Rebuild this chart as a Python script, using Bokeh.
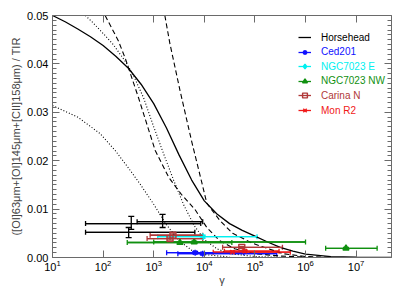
import numpy as np
from bokeh.plotting import figure
from bokeh.models import (Range1d, FixedTicker, SingleIntervalTicker, LogAxis, LinearAxis,
                          PrintfTickFormatter, CustomJSTickFormatter, ColumnDataSource,
                          Whisker, TeeHead, Legend, LegendItem)
from bokeh.embed import file_html
from bokeh.resources import INLINE

# ---------------- model curves (log10 gamma, ratio) ----------------
solid_lg = [1.0, 1.25, 1.5, 1.75, 2.0, 2.25, 2.5, 2.75, 3.0, 3.25, 3.5, 3.75, 4.0, 4.25, 4.5, 4.75, 5.0, 5.25, 5.5, 5.75, 6.0, 6.5, 7.0, 7.7]
solid_y = [0.0500, 0.0487, 0.0472, 0.0456, 0.0438, 0.0416, 0.0391, 0.0358, 0.0318, 0.0268, 0.0212, 0.0160, 0.0117, 0.0090, 0.0070, 0.0056, 0.0044, 0.0032, 0.0021, 0.0013, 0.0007, 0.0002, 0.00005, 0.00001]

dot1_lg = [1.65, 1.8, 2.0, 2.2, 2.44, 2.6, 2.8, 3.0, 3.2, 3.4, 3.6, 3.8, 4.0, 4.25, 4.5, 5.0, 5.5]
dot1_y = [0.0500, 0.0485, 0.0463, 0.0440, 0.0405, 0.0376, 0.0330, 0.0270, 0.0213, 0.0158, 0.0107, 0.0066, 0.0037, 0.0018, 0.0008, 0.0002, 0.00005]

dot2_lg = [1.0, 1.5, 1.94, 2.24, 2.5, 2.73, 3.0, 3.25, 3.5, 3.75, 4.0, 4.5]
dot2_y = [0.0314, 0.0290, 0.0256, 0.0221, 0.0185, 0.0152, 0.0110, 0.0068, 0.0035, 0.0015, 0.0006, 0.0001]

dashA_lg = [2.04, 2.3, 2.44, 2.7, 3.03, 3.3, 3.55, 3.81, 4.05, 4.3, 4.6, 5.0, 5.5, 6.0]
dashA_y = [0.0500, 0.0448, 0.0411, 0.0330, 0.0221, 0.0165, 0.0130, 0.0100, 0.0062, 0.0035, 0.0018, 0.0008, 0.0003, 0.0001]

dashB_lg = [3.22, 3.32, 3.52, 3.75, 3.95, 4.05, 4.31, 4.56, 4.96, 5.55, 6.0, 6.5]
dashB_y = [0.0500, 0.0442, 0.0345, 0.0240, 0.0155, 0.0112, 0.0076, 0.0050, 0.0029, 0.0008, 0.0002, 0.00005]

# ---------------- observations ----------------
names = ["Horsehead", "Ced201", "NGC7023 E", "NGC7023 NW", "Carina N", "Mon R2"]
colors = ["#000000", "#1010FF", "#00F0F0", "#109010", "#B03838", "#F01818"]
markers = [None, "asterisk", "diamond", "triangle", "square", "x"]

hh_gamma = [360, 1500, 320]
hh_ratio = [0.0070, 0.0074, 0.0052]
hh_glo = [45, 470, 45]
hh_ghi = [8500, 9300, 6500]
hh_rlo = [0.0058, 0.0062, 0.0041]
hh_rhi = [0.0085, 0.0089, 0.0062]

ced_gamma = [6600, 9300]
ced_ratio = [0.0010, 0.0008]
ced_glo = [1800, 3000]
ced_ghi = [60000, 270000]
ced_rlo = [0.0008, 0.0006]
ced_rhi = [0.0012, 0.0010]

e_gamma = [9300]
e_ratio = [0.0043]
e_glo = [1200]
e_ghi = [110000]
e_rlo = [0.0040]
e_rhi = [0.0046]

nw_gamma = [3300, 6300, 6.3e6]
nw_ratio = [0.0031, 0.0032, 0.0019]
nw_glo = [300, 1000, 2.5e6]
nw_ghi = [35000, 1.0e6, 2.6e7]
nw_rlo = [0.0029, 0.0030, 0.0017]
nw_rhi = [0.0033, 0.0034, 0.0021]

car_gamma = [2100, 2400, 55000]
car_ratio = [0.0039, 0.0046, 0.0021]
car_glo = [740, 850, 23000]
car_ghi = [9300, 9300, 350000]
car_rlo = [0.0036, 0.0043, 0.0019]
car_rhi = [0.0042, 0.0049, 0.0023]

mon_gamma = [36000, 63000]
mon_ratio = [0.0011, 0.0013]
mon_glo = [15000, 25000]
mon_ghi = [500000, 300000]
mon_rlo = [0.0009, 0.0011]
mon_rhi = [0.0013, 0.0015]

series = [
    (hh_gamma, hh_ratio, hh_glo, hh_ghi, hh_rlo, hh_rhi),
    (ced_gamma, ced_ratio, ced_glo, ced_ghi, ced_rlo, ced_rhi),
    (e_gamma, e_ratio, e_glo, e_ghi, e_rlo, e_rhi),
    (nw_gamma, nw_ratio, nw_glo, nw_ghi, nw_rlo, nw_rhi),
    (car_gamma, car_ratio, car_glo, car_ghi, car_rlo, car_rhi),
    (mon_gamma, mon_ratio, mon_glo, mon_ghi, mon_rlo, mon_rhi),
]

FONT = "Liberation Sans"
AX = "#6a6a6a"

p = figure(width=407, height=291, x_axis_type="log", output_backend="svg",
           toolbar_location=None, x_range=Range1d(10, 5e7), y_range=Range1d(0, 0.05),
           min_border_left=52, min_border_right=16, min_border_top=15, min_border_bottom=34)
p.grid.visible = False
p.outline_line_color = None
p.background_fill_color = "white"

def style_axis(ax, labels=True):
    ax.axis_line_color = AX
    ax.major_tick_line_color = AX
    ax.minor_tick_line_color = AX
    ax.major_tick_in = 7
    ax.major_tick_out = 0
    ax.minor_tick_in = 4
    ax.minor_tick_out = 0
    ax.major_label_text_font = FONT
    ax.major_label_text_font_size = "11px"
    ax.major_label_text_color = "black"
    ax.axis_label_text_font = FONT
    ax.axis_label_text_font_size = "11px"
    ax.axis_label_text_font_style = "normal"
    if not labels:
        ax.formatter = CustomJSTickFormatter(code="return ''")
        ax.major_label_standoff = 0

xt = FixedTicker(ticks=[10, 1e2, 1e3, 1e4, 1e5, 1e6, 1e7], minor_ticks=[])
yt = SingleIntervalTicker(interval=0.01, num_minor_ticks=10)

xb = p.xaxis[0]
xb.ticker = xt
style_axis(xb)
xb.axis_label = "γ"
xb.major_label_standoff = 2
xb.axis_label_standoff = 0

yl = p.yaxis[0]
yl.ticker = yt
yl.formatter = PrintfTickFormatter(format="%.2f")
style_axis(yl)
yl.axis_label = "([OI]63μm+[OI]145μm+[CII]158μm) / TIR"
yl.major_label_standoff = 4
yl.axis_label_standoff = 2

xtop = LogAxis(ticker=xt)
style_axis(xtop, labels=False)
p.add_layout(xtop, "above")
yr = LinearAxis(ticker=yt)
style_axis(yr, labels=False)
p.add_layout(yr, "right")

# curves
def curve(lg, yv, dash, width):
    p.line(x=10 ** np.array(lg), y=yv, line_color="black", line_width=width, line_dash=dash)

curve(solid_lg, solid_y, "solid", 1.3)
curve(dot1_lg, dot1_y, "1 2", 1.1)
curve(dot2_lg, dot2_y, "1 2", 1.1)
curve(dashA_lg, dashA_y, "5 3", 1.1)
curve(dashB_lg, dashB_y, "5 3", 1.1)

# observations
legend_rows = []
for (g, r, glo, ghi, rlo, rhi), name, col, mk in zip(series, names, colors, markers):
    src = ColumnDataSource(dict(g=g, r=r, glo=glo, ghi=ghi, rlo=rlo, rhi=rhi))
    seg = p.segment(x0="glo", x1="ghi", y0="r", y1="r", source=src, line_color=col, line_width=1.3)
    wx = Whisker(source=src, base="r", lower="glo", upper="ghi", dimension="width",
                 line_color=col, line_width=1.3,
                 lower_head=TeeHead(size=5, line_color=col, line_width=1.3),
                 upper_head=TeeHead(size=5, line_color=col, line_width=1.3))
    p.add_layout(wx)
    wy = Whisker(source=src, base="g", lower="rlo", upper="rhi", dimension="height",
                 line_color=col, line_width=1.3,
                 lower_head=TeeHead(size=6, line_color=col, line_width=1.3),
                 upper_head=TeeHead(size=6, line_color=col, line_width=1.3))
    p.add_layout(wy)
    rends = [seg]
    if mk is not None:
        fill = col if mk in ("triangle", "diamond") else None
        m = p.scatter(x="g", y="r", source=src, marker=mk, size=6, line_color=col,
                      fill_color=fill, line_width=1.4)
        rends.append(m)
    legend_rows.append((name, col, rends))

for i, (name, col, rends) in enumerate(legend_rows):
    center_y = 37 + 14.6 * i          # screenshot row centre
    vy = 257 - (center_y + 6)
    leg = Legend(items=[LegendItem(label=name, renderers=rends)], location=(246, vy),
                 label_text_color=col, label_text_font=FONT, label_text_font_size="10px",
                 glyph_width=13, glyph_height=12, label_height=12, label_standoff=10,
                 padding=0, margin=0, spacing=0, border_line_color=None,
                 background_fill_alpha=0)
    p.add_layout(leg)

open("out.html", "w").write(file_html(p, INLINE))
